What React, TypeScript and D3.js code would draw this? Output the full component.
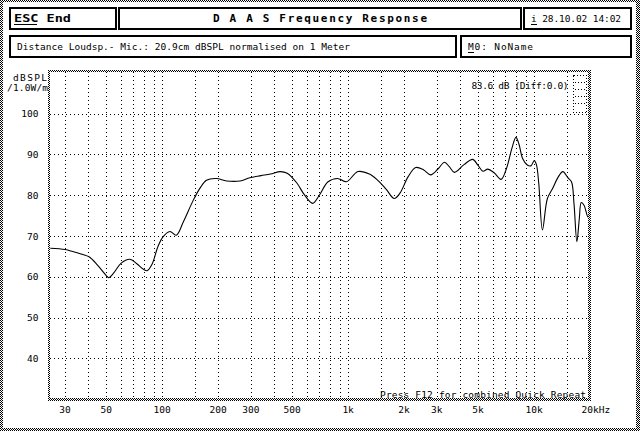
import React from "react";
import * as d3 from "d3";

const FREQS = [25, 30, 33, 37, 40.4, 45, 50, 51.5, 55, 60, 67, 73, 80, 83, 88, 95, 101, 110, 119, 130, 147, 160, 173, 196, 222, 262, 296, 340, 382, 432, 470, 530, 580, 645, 700, 780, 877, 906, 980, 1130, 1300, 1440, 1600, 1770, 1900, 2100, 2310, 2550, 2780, 3050, 3300, 3500, 3730, 4200, 4680, 5000, 5310, 5640, 6100, 6650, 7100, 7600, 7990, 8300, 8680, 9200, 9620, 10030, 10300, 10600, 11100, 11800, 12600, 13500, 14300, 15200, 15900, 16400, 17000, 17500, 17960, 18600, 19500, 20000];
const DB = [67.0, 66.7, 66.2, 65.5, 64.9, 62.8, 60.3, 59.8, 61.0, 63.3, 64.3, 63.2, 61.7, 61.5, 63.0, 67.5, 69.8, 71.1, 70.2, 73.5, 78.8, 81.8, 83.7, 84.1, 83.5, 83.5, 84.3, 84.8, 85.2, 85.8, 85.4, 83.0, 80.2, 78.0, 80.0, 83.3, 84.1, 83.9, 83.3, 85.8, 85.2, 83.7, 81.5, 79.2, 80.5, 84.5, 86.8, 86.2, 85.0, 86.5, 88.1, 87.0, 85.6, 87.5, 88.8, 87.3, 85.9, 86.4, 85.5, 83.9, 86.5, 91.5, 94.2, 92.5, 89.0, 87.4, 87.2, 88.5, 87.5, 83.0, 71.5, 79.2, 81.7, 84.5, 85.8, 84.3, 83.3, 78.0, 68.6, 74.0, 78.2, 77.5, 74.7, 75.4];

const GRID_FREQS = [30, 40, 50, 60, 70, 80, 90, 100, 150, 200, 300, 400, 500, 600, 700, 800, 900, 1000, 1500, 2000, 3000, 4000, 5000, 6000, 7000, 8000, 9000, 10000, 15000];
const X_TICKS = [30, 50, 100, 200, 300, 500, 1000, 2000, 3000, 5000, 10000, 20000];
const X_LABELS = ["30", "50", "100", "200", "300", "500", "1k", "2k", "3k", "5k", "10k", "20k"];
const Y_TICKS = [40, 50, 60, 70, 80, 90, 100];

const MONO = "'DejaVu Sans Mono', 'Liberation Mono', monospace";

export default function App() {
  const x = d3.scaleLog().domain([30, 20000]).range([65, 590]);
  const y = d3.scaleLinear().domain([40, 100]).range([358.3, 113.7]);
  const pts: [number, number][] = FREQS.map((f, i) => [x(f), y(DB[i])]);
  const line = d3.line().curve(d3.curveCatmullRom.alpha(0.5))(pts) || "";

  const PL = 50, PR = 588, PT = 72, PB = 398;
  const txt = { fontFamily: MONO, fontSize: 9.5, fill: "#000" } as const;
  const box = (x0: number, y0: number, x1: number, y1: number, k: string) => (
    <rect key={k} x={x0 + 1} y={y0 + 1} width={x1 - x0 - 2} height={y1 - y0 - 2} fill="#fff" stroke="#000" strokeWidth={2} shapeRendering="crispEdges" />
  );

  return (
    <div style={{ position: "absolute", left: 0, top: 0 }}>
      <svg width={640} height={431} style={{ display: "block" }}>
        <defs>
          <pattern id="dither" width={2} height={2} patternUnits="userSpaceOnUse">
            <rect width={2} height={2} fill="#fff" />
            <rect x={0} y={0} width={1} height={1} fill="#000" />
            <rect x={1} y={1} width={1} height={1} fill="#000" />
          </pattern>
          <clipPath id="plotclip">
            <rect x={PL} y={PT} width={PR - PL} height={PB - PT} />
          </clipPath>
        </defs>
        <rect x={0} y={0} width={640} height={431} fill="url(#dither)" />
        <rect x={3} y={2} width={633} height={426} fill="#fff" />

        {/* header boxes */}
        {box(9, 7, 117, 30, "b1")}
        {box(118, 7, 522, 30, "b2")}
        {box(523, 7, 632, 30, "b3")}
        {box(9, 35, 457, 58, "b4")}
        {box(460, 35, 632, 58, "b5")}

        <text x={14} y={22} fontFamily={MONO} fontSize={11} fontWeight="bold" textLength={57} lengthAdjust="spacingAndGlyphs">ESC End</text>
        <line x1={14} x2={37} y1={24.5} y2={24.5} stroke="#000" strokeWidth={1} />
        <text x={213} y={22} fontFamily={MONO} fontSize={11} fontWeight="bold" textLength={214} lengthAdjust="spacing">D A A S  Frequency Response</text>
        <text x={531} y={22} {...txt} textLength={90} lengthAdjust="spacing">i 28.10.02 14:02</text>
        <line x1={531} x2={537} y1={24.5} y2={24.5} stroke="#000" strokeWidth={1} />
        <text x={17} y={50} {...txt} textLength={333} lengthAdjust="spacing">Distance Loudsp.- Mic.: 20.9cm dBSPL normalised on 1 Meter</text>
        <text x={468} y={50} {...txt} textLength={65} lengthAdjust="spacing">M0:  NoName</text>
        <line x1={468} x2={474} y1={52.5} y2={52.5} stroke="#000" strokeWidth={1} />

        {/* grid */}
        {GRID_FREQS.map((f) => (
          <line key={"gx" + f} x1={Math.round(x(f)) + 0.5} x2={Math.round(x(f)) + 0.5} y1={PT} y2={PB} stroke="#000" strokeWidth={1} strokeDasharray="1,3" shapeRendering="crispEdges" />
        ))}
        {Y_TICKS.map((v) => (
          <line key={"gy" + v} x1={PL} x2={PR} y1={Math.round(y(v)) + 0.5} y2={Math.round(y(v)) + 0.5} stroke="#000" strokeWidth={1} strokeDasharray="1,3" shapeRendering="crispEdges" />
        ))}

        {/* curve */}
        <path d={line} fill="none" stroke="#000" strokeWidth={1.1} clipPath="url(#plotclip)" />

        {/* plot border (dithered) */}
        <rect x={48} y={70} width={543} height={2} fill="url(#dither)" />
        <rect x={48} y={398} width={543} height={3} fill="url(#dither)" />
        <rect x={48} y={70} width={2} height={331} fill="url(#dither)" />
        <rect x={588} y={70} width={3} height={331} fill="url(#dither)" />

        {/* small dotted box top-right */}
        <rect x={573.5} y={75.5} width={13} height={37} fill="none" stroke="#000" strokeWidth={1} strokeDasharray="1,2" shapeRendering="crispEdges" />
        {[82, 89, 96, 103].map((yy) => (
          <line key={"sb" + yy} x1={575} x2={586} y1={yy + 0.5} y2={yy + 0.5} stroke="#000" strokeWidth={1} strokeDasharray="1,2" shapeRendering="crispEdges" />
        ))}

        {/* axis labels */}
        <text x={13} y={81} {...txt} textLength={34} lengthAdjust="spacing">dBSPL</text>
        <text x={7} y={91} {...txt} textLength={41} lengthAdjust="spacing">/1.0W/m</text>
        {Y_TICKS.map((v) => (
          <text key={"yl" + v} x={38.5} y={y(v) + 3.5} {...txt} textAnchor="end">{v}</text>
        ))}
        {X_TICKS.map((f, i) =>
          i === X_TICKS.length - 1 ? (
            <text key={"xl" + f} x={x(f) - 8.5} y={413} {...txt}>20kHz</text>
          ) : (
            <text key={"xl" + f} x={x(f)} y={413} {...txt} textAnchor="middle">{X_LABELS[i]}</text>
          )
        )}
        <text x={471.5} y={88.5} {...txt} textLength={97} lengthAdjust="spacing">83.6 dB (Diff:0.0)</text>
        <text x={380} y={398} {...txt} textLength={206} lengthAdjust="spacing">Press F12 for combined Quick Repeat</text>
      </svg>
    </div>
  );
}
